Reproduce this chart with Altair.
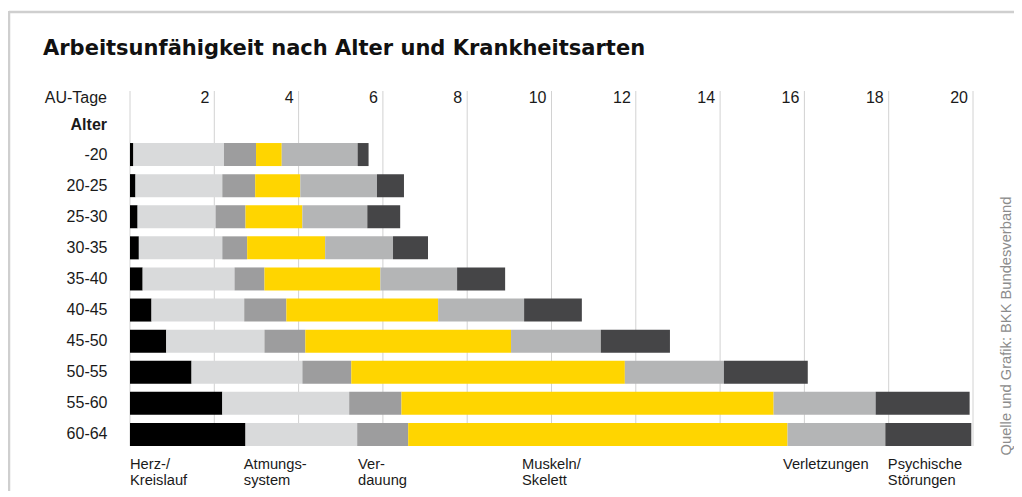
import altair as alt
import pandas as pd

# ---------------- data ----------------
ages = ["-20", "20-25", "25-30", "30-35", "35-40", "40-45", "45-50", "50-55", "55-60", "60-64"]
categories = ["Herz-/Kreislauf", "Atmungssystem", "Verdauung", "Muskeln/Skelett",
              "Verletzungen", "Psychische Störungen"]
herz      = [0.08, 0.13, 0.18, 0.21, 0.30, 0.51, 0.86, 1.46, 2.19, 2.74]
atmung    = [2.15, 2.06, 1.85, 1.98, 2.18, 2.20, 2.33, 2.63, 3.01, 2.65]
verdauung = [0.76, 0.78, 0.71, 0.59, 0.71, 1.00, 0.97, 1.16, 1.24, 1.21]
muskel    = [0.61, 1.07, 1.35, 1.85, 2.75, 3.60, 4.88, 6.49, 8.83, 9.00]
verletz   = [1.80, 1.82, 1.54, 1.61, 1.82, 2.04, 2.13, 2.35, 2.42, 2.32]
psych     = [0.26, 0.64, 0.78, 0.83, 1.14, 1.37, 1.64, 1.99, 2.23, 2.04]
tick_values = [0, 2, 4, 6, 8, 10, 12, 14, 16, 18, 20]
bottom_labels = ["Herz-/\nKreislauf", "Atmungs-\nsystem", "Ver-\ndauung",
                 "Muskeln/\nSkelett", "Verletzungen", "Psychische\nStörungen"]
title_text = "Arbeitsunfähigkeit nach Alter und Krankheitsarten"
source_text = "Quelle und Grafik: BKK Bundesverband"

# ---------------- styling / layout ----------------
colors = ["#000000", "#d9dadb", "#9d9d9e", "#ffd500", "#b4b5b6", "#454547"]
label_anchor = [0.0, 2.70, 5.41, 9.30, 15.49, 17.98]  # x anchors (data units) for legend texts
FONT = "Liberation Sans"
TITLE_FONT = "DejaVu Sans"
W, H = 843, 311

series = [herz, atmung, verdauung, muskel, verletz, psych]
rows = []
for ci, (cat, vals) in enumerate(zip(categories, series)):
    for age, v in zip(ages, vals):
        rows.append({"age": age, "cat": cat, "value": v, "idx": ci})
df = pd.DataFrame(rows)

ticks_df = pd.DataFrame({"t": tick_values})
ticklab_df = pd.DataFrame({"t": tick_values[1:], "lab": [str(t) for t in tick_values[1:]]})
legend_df = pd.DataFrame({"x": label_anchor, "lab": bottom_labels})

xscale = alt.Scale(domain=[0, 20], nice=False, zero=True)

grid = alt.Chart(ticks_df).mark_rule(color="#d2d2d2", strokeWidth=1).encode(
    x=alt.X("t:Q", scale=xscale, axis=None),
    y=alt.value(-48), y2=alt.value(307),
)

ticklabels = alt.Chart(ticklab_df).mark_text(
    align="right", baseline="alphabetic", dx=-5, fontSize=16, font=FONT, color="#1a1a1a"
).encode(
    x=alt.X("t:Q", scale=xscale, axis=None),
    y=alt.value(-36),
    text="lab:N",
)

bars = alt.Chart(df).mark_bar(strokeWidth=0).encode(
    x=alt.X("value:Q", stack="zero", scale=xscale, axis=None),
    y=alt.Y("age:N", sort=ages,
            scale=alt.Scale(paddingInner=0.26, paddingOuter=0.13),
            axis=alt.Axis(title=None, domain=False, ticks=False, labelPadding=23,
                          labelFontSize=16, labelFont=FONT, labelColor="#1a1a1a",
                          grid=False)),
    color=alt.Color("cat:N", scale=alt.Scale(domain=categories, range=colors), legend=None),
    order=alt.Order("idx:Q", sort="ascending"),
)

legend_text = alt.Chart(legend_df).mark_text(
    align="left", baseline="alphabetic", lineBreak="\n", lineHeight=15.5,
    fontSize=14.7, font=FONT, color="#1a1a1a"
).encode(
    x=alt.X("x:Q", scale=xscale, axis=None),
    y=alt.value(330),
    text="lab:N",
)

single = pd.DataFrame({"k": [0]})

def fixed_text(txt, x, y, font=FONT, **kw):
    return alt.Chart(single).mark_text(text=txt, font=font, **kw).encode(
        x=alt.value(x), y=alt.value(y))

title = fixed_text(title_text, -87, -84, font=TITLE_FONT, align="left", baseline="alphabetic",
                   fontSize=21, fontWeight="bold", color="#111111")
au = fixed_text("AU-Tage", -23, -36, align="right", baseline="alphabetic",
                fontSize=16, color="#1a1a1a")
alter = fixed_text("Alter", -23, -9, align="right", baseline="alphabetic",
                   fontSize=16, fontWeight="bold", color="#1a1a1a")
source = fixed_text(source_text, 877, 187, align="center", baseline="middle",
                    angle=270, fontSize=14.7, color="#8c8c8c")

frame_top = alt.Chart(single).mark_rule(color="#cfcfcf", strokeWidth=2.5).encode(
    x=alt.value(-121), x2=alt.value(884), y=alt.value(-127))
frame_left = alt.Chart(single).mark_rule(color="#cfcfcf", strokeWidth=2.5).encode(
    x=alt.value(-121), y=alt.value(-128), y2=alt.value(352))

chart = alt.layer(
    frame_top, frame_left, grid, bars, ticklabels, legend_text, title, au, alter, source
).properties(
    width=W, height=H,
    autosize=alt.AutoSizeParams(type="none"),
    padding={"left": 122, "top": 131, "right": 41, "bottom": 41},
    background="white",
).configure_view(stroke=None)

chart.save("out.html", embed_options={"renderer": "svg", "actions": False})
